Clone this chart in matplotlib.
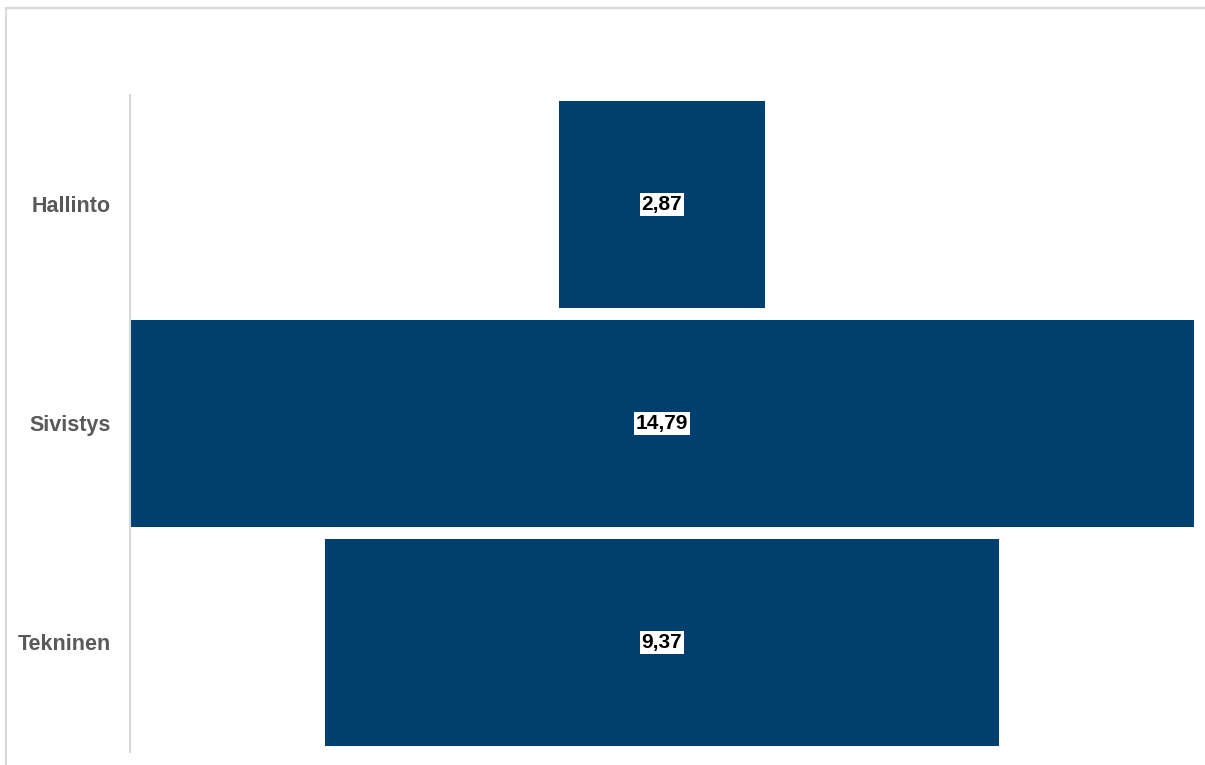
import matplotlib
matplotlib.use("Agg")
import matplotlib.pyplot as plt
from matplotlib.patches import Rectangle

categories = ["Hallinto", "Sivistys", "Tekninen"]
values = [2.87, 14.79, 9.37]
labels = ["2,87", "14,79", "9,37"]

plt.rcParams['font.family'] = ['Liberation Sans Narrow', 'Liberation Sans', 'DejaVu Sans']

W, H = 1205, 765
fig = plt.figure(figsize=(W/100, H/100), dpi=100)
fig.patches.append(Rectangle((6/W, -0.1), 1.2, 1 - 8/H + 0.1, transform=fig.transFigure,
                             fill=False, edgecolor='#d9d9d9', linewidth=1.5))
ax = fig.add_axes([130/W, 1 - 752/H, (1194-130)/W, (752-95)/H])

color = '#003F6E'
ys = list(range(len(categories)))
for y, v, lab in zip(ys, values, labels):
    ax.barh(y, v, left=-v/2, height=0.945, color=color)
    ax.text(0, y, lab, ha='center', va='center', fontsize=15, fontweight='bold', color='black',
            bbox=dict(boxstyle='square,pad=0.1', facecolor='white', edgecolor='none'))

mx = max(values)
ax.set_xlim(-mx/2, mx/2)
ax.set_ylim(len(categories) - 0.5, -0.5)
ax.set_yticks(ys)
ax.set_yticklabels(categories, fontsize=15.5, fontweight='bold', color='#595959')
ax.tick_params(axis='y', length=0, pad=14)
ax.set_xticks([])
for s in ['top', 'right', 'bottom']:
    ax.spines[s].set_visible(False)
ax.spines['left'].set_color('#d9d9d9')
ax.spines['left'].set_linewidth(1.5)

fig.savefig('out.png', dpi=100)
